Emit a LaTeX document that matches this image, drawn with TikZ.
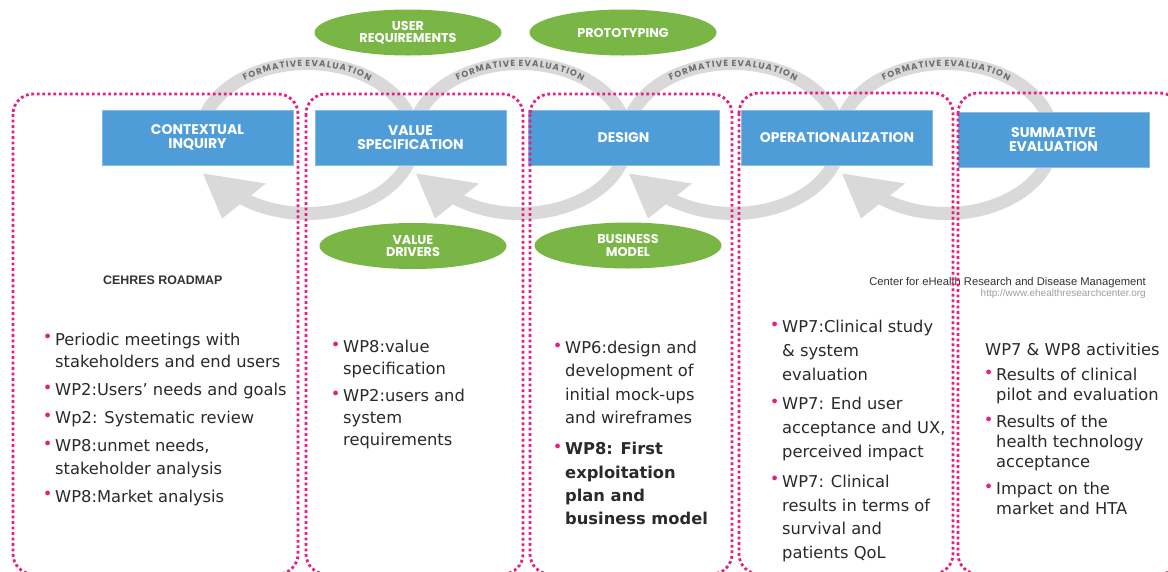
\documentclass[tikz,border=0pt]{standalone}
\usepackage{fontspec}
\setmainfont{DejaVu Sans}
\newfontfamily\lblfont{Poppins}
\newfontfamily\ringfont{Poppins}
\newfontfamily\helv{Liberation Sans}
\usetikzlibrary{shapes.geometric,decorations.text}

\definecolor{boxblue}{HTML}{4E9CD8}
\definecolor{boxedge}{HTML}{86BBE6}
\definecolor{leafgreen}{HTML}{79B645}
\definecolor{ringgray}{HTML}{D9D9D9}
\definecolor{ringtxt}{HTML}{6E6E6E}
\definecolor{dotpink}{HTML}{E61E7D}
\definecolor{bodytxt}{HTML}{2A2A2A}

% pink bullet hung into the left margin of a line
\newcommand\bul{\noindent\llap{\raisebox{2.5pt}{\textcolor{dotpink}{•}}\hspace{2.6pt}}}
% tracked letters for the loop captions (each group is set as one unit)
\newcommand\lt[1]{#1\kern1.3pt}

\begin{document}
\begin{tikzpicture}[x=1pt,y=-1pt,
  phase/.style={fill=boxblue, draw=boxedge, line width=0.8pt, text=white,
    minimum width=191pt, minimum height=55pt, inner sep=0pt, align=center,
    font=\lblfont\bfseries\fontsize{14}{13.5}\selectfont},
  activity/.style={ellipse, fill=leafgreen, text=white, minimum width=187pt,
    minimum height=46pt, inner sep=0pt, align=center,
    font=\lblfont\bfseries\fontsize{12.8}{12.5}\selectfont},
  ringline/.style={draw=ringgray, line width=13pt},
  panel/.style={draw=dotpink, line width=2.8pt, dash pattern=on 2.8pt off 2.7pt,
    rounded corners=20pt},
  body/.style={anchor=north west, inner sep=0pt, align=left, text=bodytxt}]

\useasboundingbox (0,0) rectangle (1168,571);
\clip (0,0) rectangle (1168,571);
\fill[white] (0,0) rectangle (1168,571);

% formative evaluation loops with their arrowheads
\foreach \cx/\n in {307/1,520/2,733/3,946/4}{
  \coordinate (ring\n) at (\cx,138.5);
  \draw[ringline] (ring\n) ++(185:107 and 75)
    arc[start angle=185, end angle=488, x radius=107, y radius=75];
  \fill[ringgray] ([shift={(-104,35)}]ring\n) -- ([shift={(-41,45)}]ring\n)
    -- ([shift={(-85,80)}]ring\n) -- cycle;
  \path[decorate, decoration={text along path, text align=center, raise=-3pt,
      text={|\ringfont\bfseries\fontsize{8.8}{9}\selectfont\color{ringtxt}|{\lt F}{\lt O}{\lt R}{\lt M}{\lt A}{\lt T}{\lt I}{\lt V}{\lt E} {\lt E}{\lt V}{\lt A}{\lt L}{\lt U}{\lt A}{\lt T}{\lt I}{\lt O}{N}}}]
    (ring\n) ++(210:107 and 75)
    arc[start angle=210, end angle=330, x radius=107, y radius=75];
}

% activities
\node[activity] (ureq) at (408,32.5) {USER\\REQUIREMENTS};
\node[activity] (proto) at (623,32.5) {PROTOTYPING};
\node[activity] (vdrv) at (413,246) {VALUE\\DRIVERS};
\node[activity] (bmod) at (628,245.5) {BUSINESS\\MODEL};

% phases
\node[phase] (ci) at (197.5,137.5) {CONTEXTUAL\\INQUIRY};
\node[phase] (vs) at (410.5,137.5) {VALUE\\SPECIFICATION};
\node[phase] (de) at (623.5,137.5) {DESIGN};
\node[phase] (op) at (837,137.5) {OPERATIONALIZATION};
\node[phase] (se) at (1053.5,139.5) {SUMMATIVE\\EVALUATION};

% captions
\node[anchor=base west, inner sep=0pt, text=black!80,
  font=\helv\bfseries\fontsize{12.4}{13}\selectfont] (road) at (103,284.5) {CEHRES ROADMAP};
\node[anchor=base east, inner sep=0pt, text=black!80,
  font=\helv\fontsize{11.2}{12}\selectfont] (center) at (1146,285) {Center for eHealth Research and Disease Management};
\node[anchor=base east, inner sep=0pt, text=black!38,
  font=\helv\fontsize{10}{11}\selectfont] (url) at (1146,296) {http://www.ehealthresearchcenter.org};

% work package lists
\node[body, font=\fontsize{16.3}{22.5}\selectfont] (col1) at (55,332.5)
  {\bul Periodic meetings with\\ stakeholders and end users\\[5.5pt]
   \bul WP2:Users’ needs and goals\\[5.5pt]
   \bul Wp2: Systematic review\\[5.5pt]
   \bul WP8:unmet needs,\\ stakeholder analysis\\[5.5pt]
   \bul WP8:Market analysis};
\node[body, font=\fontsize{16.3}{22}\selectfont] (col2) at (343,340)
  {\bul WP8:value\\ specification\\[5pt]
   \bul WP2:users and\\ system\\ requirements};
\node[body, font=\fontsize{16.3}{23.3}\selectfont] (col3) at (565,341)
  {\bul WP6:design and\\ development of\\ initial mock-ups\\ and wireframes\\[8pt]
   \bul\textbf{WP8: First}\\ \textbf{exploitation}\\ \textbf{plan and}\\ \textbf{business model}};
\node[body, font=\fontsize{16.3}{23.8}\selectfont] (col4) at (782,320)
  {\bul WP7:Clinical study\\ \& system\\ evaluation\\[6pt]
   \bul WP7: End user\\ acceptance and UX,\\ perceived impact\\[6pt]
   \bul WP7: Clinical\\ results in terms of\\ survival and\\ patients QoL};
\node[body, font=\fontsize{16.3}{20}\selectfont] (col5h) at (985,343)
  {WP7 \& WP8 activities};
\node[body, font=\fontsize{16.3}{20}\selectfont] (col5) at (996,368)
  {\bul Results of clinical\\ pilot and evaluation\\[7pt]
   \bul Results of the\\ health technology\\ acceptance\\[7pt]
   \bul Impact on the\\ market and HTA};

% dotted phase panels
\draw[panel] (13,94) rectangle (298,574);
\draw[panel] (306,94) rectangle (523,574);
\draw[panel] (530,94) rectangle (732,574);
\draw[panel] (739,93) rectangle (953,574);
\draw[panel] (958,93) rectangle (1180,574);
\end{tikzpicture}
\end{document}
